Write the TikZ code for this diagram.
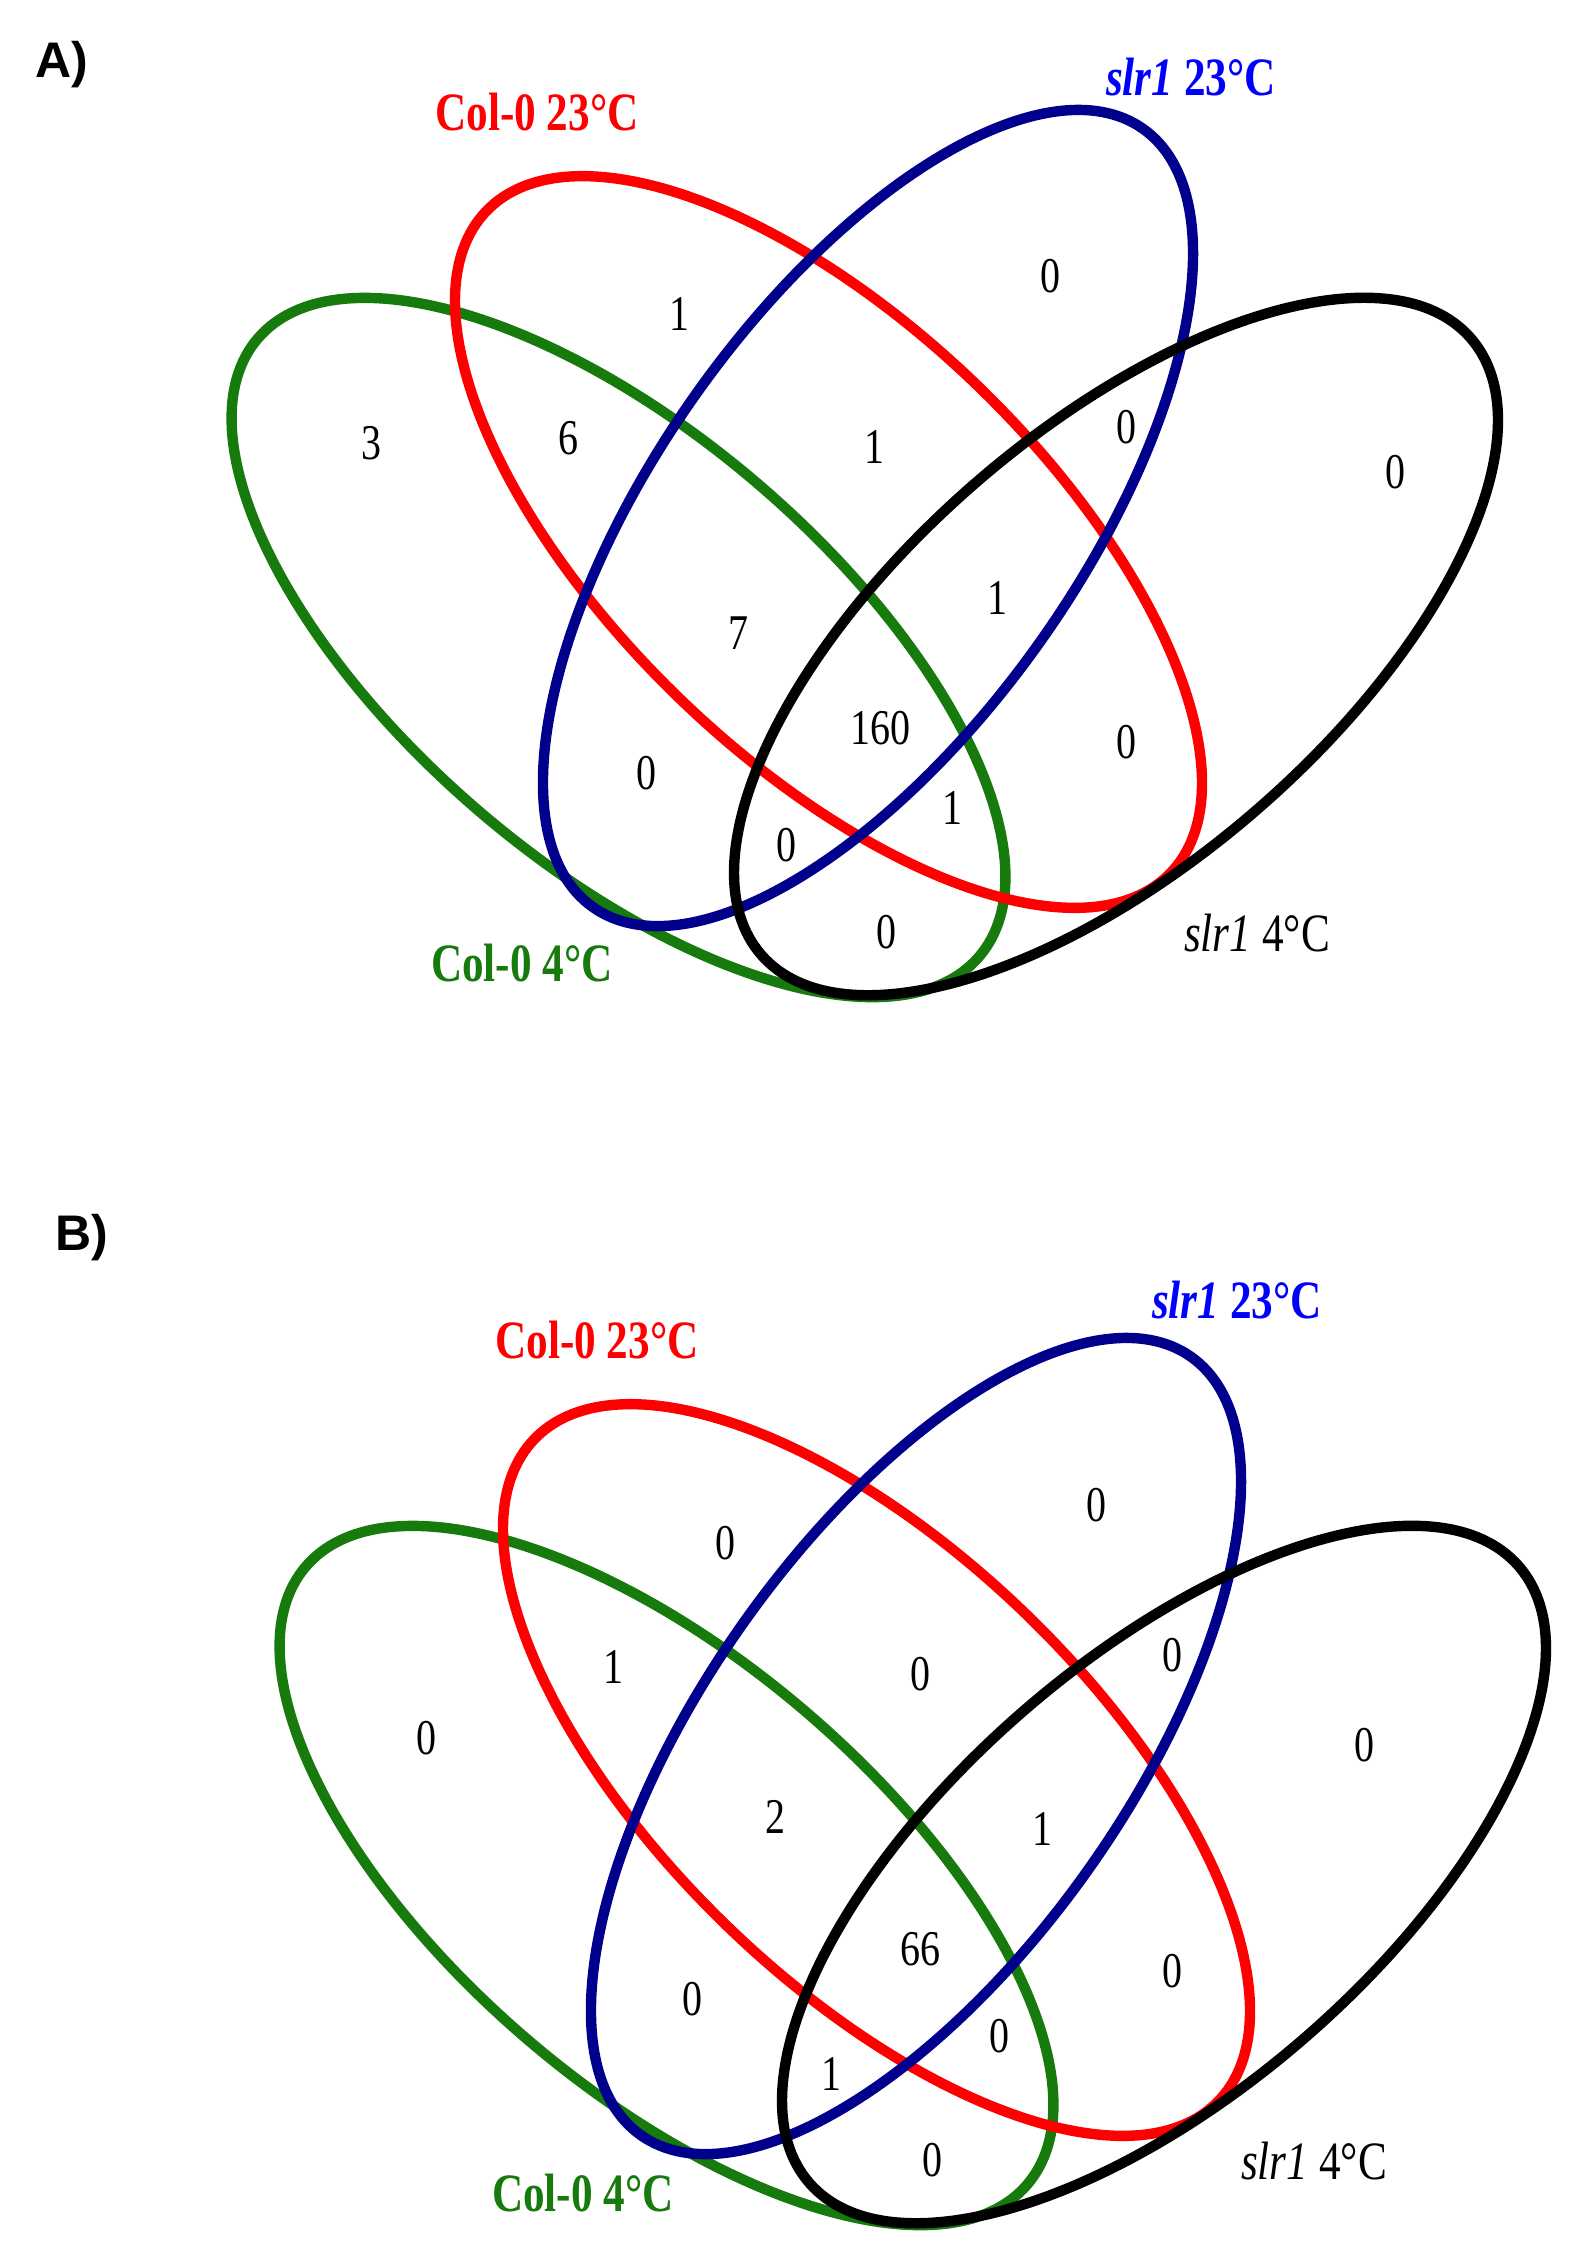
\documentclass[tikz,border=0pt]{standalone}
\usepackage{fontspec}
\setmainfont{Liberation Serif}
\newfontfamily\numfont[FakeStretch=0.8]{Liberation Serif}
\newfontfamily\labfont[FakeStretch=0.8]{Liberation Serif}
\newfontfamily\panelfont{Liberation Sans}
\definecolor{vgreen}{RGB}{22,122,12}
\definecolor{vred}{RGB}{255,0,0}
\definecolor{vblue}{RGB}{0,0,140}
\definecolor{lblue}{RGB}{0,0,255}
\tikzset{
  venn/.style={line width=2.6pt},
  num/.style={inner sep=0pt, font=\numfont\fontsize{12.5}{13}\selectfont},
  lab/.style={inner sep=0pt, font=\labfont\fontsize{13.5}{14}\selectfont},
  panel/.style={inner sep=0pt, font=\panelfont\fontsize{12.5}{14}\selectfont\bfseries}
}
\begin{document}
\begin{tikzpicture}[x=0.25pt,y=0.25pt]
\useasboundingbox (0,0) rectangle (1575,-2248);
\fill[white] (0,0) rectangle (1575,-2248);
% ---------------- Panel A ----------------
\draw[venn, vgreen, rotate around={-40.6:(618.5,-647.5)}] (618.5,-647.5) ellipse [x radius=475, y radius=215];
\draw[venn, vred, rotate around={-44.1:(828.5,-542)}] (828.5,-542) ellipse [x radius=476, y radius=216];
\draw[venn, vblue, rotate around={54.75:(868,-518)}] (868,-518) ellipse [x radius=476.6, y radius=212];
\draw[venn, black, rotate around={41:(1116,-646.5)}] (1116,-646.5) ellipse [x radius=470, y radius=215.6];
\node[panel] (pA) at (62,-65) {A)};
\node[lab, vred] (lA1) at (537,-112) {\bfseries Col-0 23°C};
\node[lab, lblue] (lA2) at (1191,-77) {\bfseries\itshape slr1\upshape\ 23°C};
\node[lab, vgreen] (lA3) at (522,-963) {\bfseries Col-0 4°C};
\node[lab, black] (lA4) at (1257,-933) {\itshape slr1\upshape\ 4°C};
\node[num] (nA1) at (371,-443) {3};
\node[num] (nA2) at (568,-438) {6};
\node[num] (nA3) at (679,-314) {1};
\node[num] (nA4) at (1050,-276) {0};
\node[num] (nA5) at (874,-447) {1};
\node[num] (nA6) at (1126,-427) {0};
\node[num] (nA7) at (1395,-472) {0};
\node[num] (nA8) at (738,-633) {7};
\node[num] (nA9) at (997,-598) {1};
\node[num] (nA10) at (880,-728) {160};
\node[num] (nA11) at (646,-773) {0};
\node[num] (nA12) at (1126,-742) {0};
\node[num] (nA13) at (952,-808) {1};
\node[num] (nA14) at (786,-845) {0};
\node[num] (nA15) at (886,-932) {0};
% ---------------- Panel B ----------------
\begin{scope}[shift={(48,-1228)}]
\draw[venn, vgreen, rotate around={-40.6:(618.5,-647.5)}] (618.5,-647.5) ellipse [x radius=475, y radius=215];
\draw[venn, vred, rotate around={-44.1:(828.5,-542)}] (828.5,-542) ellipse [x radius=476, y radius=216];
\draw[venn, vblue, rotate around={54.75:(868,-518)}] (868,-518) ellipse [x radius=476.6, y radius=212];
\draw[venn, black, rotate around={41:(1116,-646.5)}] (1116,-646.5) ellipse [x radius=470, y radius=215.6];
\end{scope}
\node[panel] (pB) at (82,-1238) {B)};
\node[lab, vred] (lB1) at (597,-1340) {\bfseries Col-0 23°C};
\node[lab, lblue] (lB2) at (1237,-1300) {\bfseries\itshape slr1\upshape\ 23°C};
\node[lab, vgreen] (lB3) at (583,-2193) {\bfseries Col-0 4°C};
\node[lab, black] (lB4) at (1314,-2161) {\itshape slr1\upshape\ 4°C};
\node[num] (nB1) at (426,-1738) {0};
\node[num] (nB2) at (613,-1667) {1};
\node[num] (nB3) at (725,-1543) {0};
\node[num] (nB4) at (1096,-1505) {0};
\node[num] (nB5) at (920,-1674) {0};
\node[num] (nB6) at (1172,-1655) {0};
\node[num] (nB7) at (1364,-1745) {0};
\node[num] (nB8) at (775,-1817) {2};
\node[num] (nB9) at (1042,-1829) {1};
\node[num] (nB10) at (920,-1949) {66};
\node[num] (nB11) at (692,-1999) {0};
\node[num] (nB12) at (1172,-1971) {0};
\node[num] (nB13) at (999,-2036) {0};
\node[num] (nB14) at (831,-2074) {1};
\node[num] (nB15) at (932,-2160) {0};
\end{tikzpicture}
\end{document}
